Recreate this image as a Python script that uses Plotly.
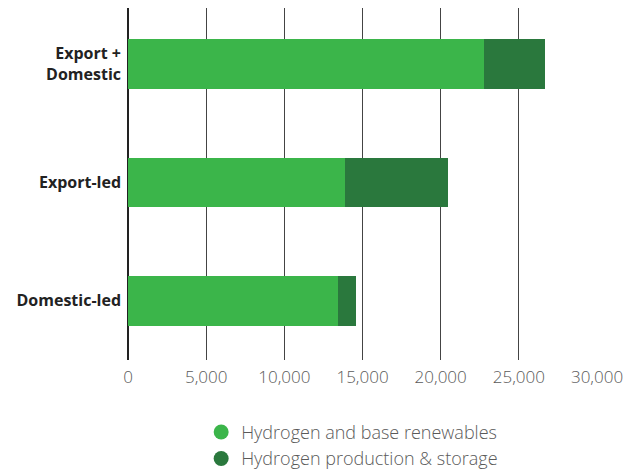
import plotly.graph_objects as go

categories = ["Export +<br>Domestic", "Export-led", "Domestic-led"]
base_renewables = [22750, 13870, 13430]
production_storage = [3950, 6600, 1140]
series_names = ["Hydrogen and base renewables", "Hydrogen production & storage"]
colors = ["#3BB54A", "#2A783D"]
x_ticks = [0, 5000, 10000, 15000, 20000, 25000, 30000]
x_tick_labels = ["0", "5,000", "10,000", "15,000", "20,000", "25,000", "30,000"]

fig = go.Figure()
for vals, name, col in zip([base_renewables, production_storage], series_names, colors):
    fig.add_trace(go.Bar(
        y=categories, x=vals, orientation="h", name=name,
        marker=dict(color=col, line=dict(width=0)),
        width=0.42, showlegend=False,
    ))
    fig.add_trace(go.Scatter(
        x=[None], y=[None], mode="markers", name=name,
        marker=dict(symbol="circle", size=15, color=col),
        showlegend=True,
    ))

fig.update_layout(
    barmode="stack",
    width=629, height=472,
    margin=dict(l=120, r=40, t=0, b=120),
    plot_bgcolor="white", paper_bgcolor="white",
    font=dict(family="Open Sans, sans-serif", color="#555555", size=16),
    xaxis=dict(
        range=[0, 30000], tickvals=x_ticks, ticktext=x_tick_labels,
        showgrid=True, gridcolor="#444444", gridwidth=1,
        zeroline=True, zerolinecolor="#222222", zerolinewidth=2,
        showline=False, ticks="", ticklen=0, ticklabelstandoff=5, automargin=False,
        tickfont=dict(size=17, color="#5a5a5a", weight=300),
    ),
    yaxis=dict(
        categoryorder="array", categoryarray=categories[::-1],
        range=[-0.5, 2.473], showgrid=False, zeroline=False, showline=False,
        ticks="", ticklabelstandoff=6, automargin=False,
        tickfont=dict(size=16, color="#222222", family="Open Sans, sans-serif", weight="bold"),
    ),
    legend=dict(
        orientation="v", x=0.156, xanchor="left", y=-0.332, yanchor="bottom",
        traceorder="normal",
        font=dict(size=18, color="#5a5a5a", weight=300), tracegroupgap=0,
        bgcolor="rgba(0,0,0,0)",
    ),
)

fig.write_html("out.html")
